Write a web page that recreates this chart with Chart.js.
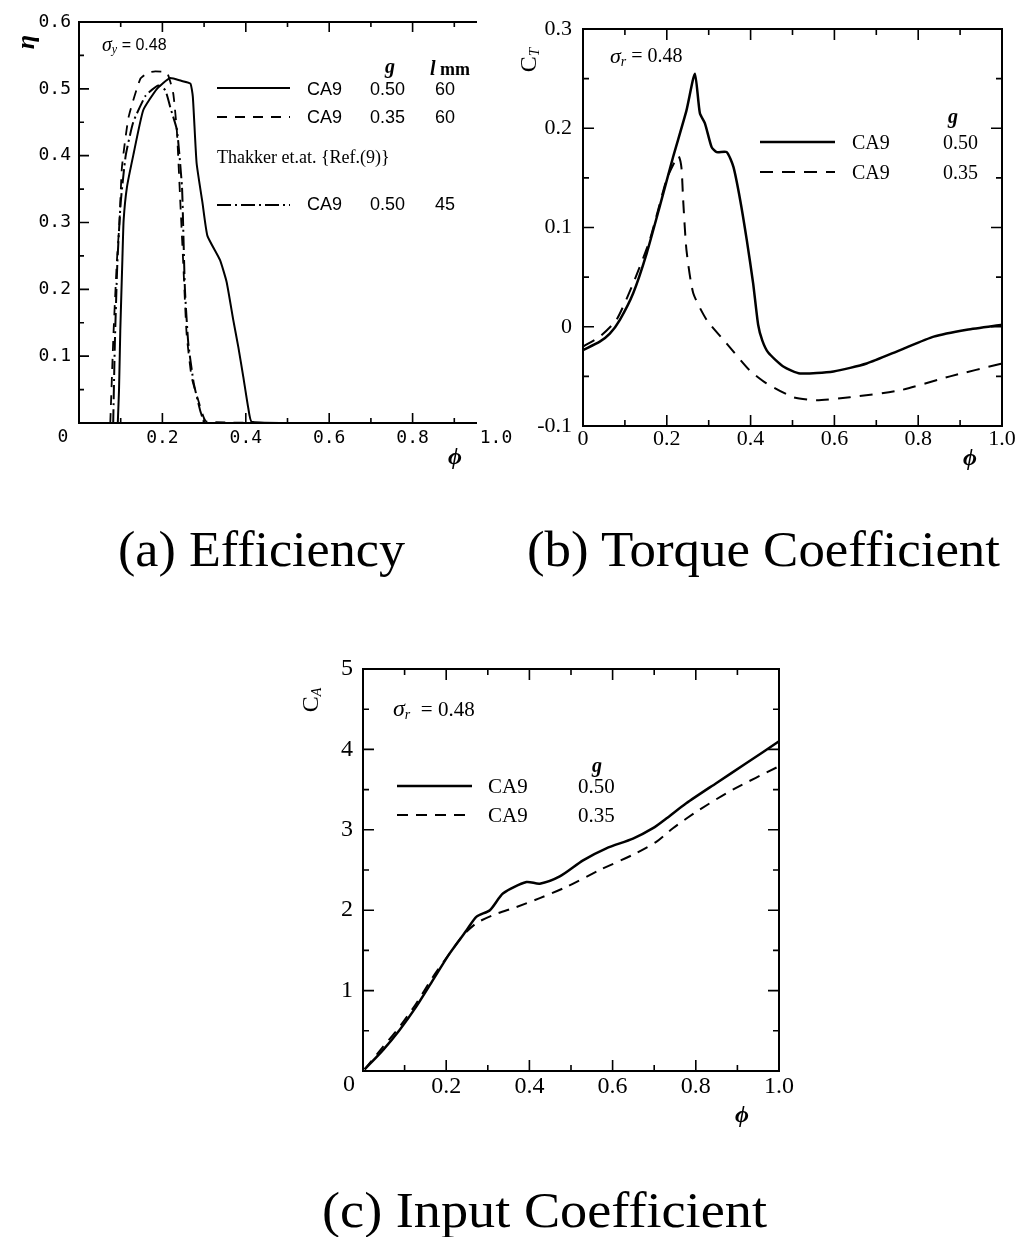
<!DOCTYPE html>
<html><head><meta charset="utf-8">
<script src="https://cdn.jsdelivr.net/npm/chart.js@4"></script>
<style>
html,body{margin:0;padding:0;background:#fff;}
body{width:1017px;height:1237px;position:relative;overflow:hidden;}
.cv{position:absolute;}
.cap{position:absolute;font-family:"Liberation Serif","DejaVu Serif",serif;font-size:50px;line-height:50px;white-space:nowrap;transform-origin:0 0;color:#000;}
</style></head><body>
<div class="cv" style="left:0;top:0;width:540px;height:480px"><canvas id="ca" width="540" height="480"></canvas></div>
<div style="position:absolute;left:477px;top:0;width:23px;height:428px;background:#fff"></div>
<div class="cv" style="left:500px;top:0;width:517px;height:480px"><canvas id="cb" width="517" height="480"></canvas></div>
<div class="cv" style="left:290px;top:640px;width:520px;height:500px"><canvas id="cc" width="520" height="500"></canvas></div>
<div class="cap" id="capA">(a) Efficiency</div>
<div class="cap" id="capB">(b) Torque Coefficient</div>
<div class="cap" id="capC">(c) Input Coefficient</div>
<script>
// ---------------- DATA ----------------
const phiTickLabels = ['0', '0.2', '0.4', '0.6', '0.8', '1.0'];
const etaTickLabels = ['0', '0.1', '0.2', '0.3', '0.4', '0.5', '0.6'];
const ctTickLabels  = ['-0.1', '0', '0.1', '0.2', '0.3'];
const caTickLabels  = ['0', '1', '2', '3', '4', '5'];

// (a) Efficiency
const effPhiG50 = [0.093, 0.096, 0.099, 0.104, 0.107, 0.115, 0.13, 0.154, 0.187, 0.218, 0.245, 0.267, 0.273, 0.282, 0.296, 0.308, 0.338, 0.354, 0.370, 0.382, 0.394, 0.406, 0.414, 0.5];
const effEtaG50 = [0, 0.05, 0.138, 0.244, 0.303, 0.353, 0.40, 0.468, 0.50, 0.516, 0.512, 0.508, 0.488, 0.389, 0.33, 0.28, 0.244, 0.211, 0.154, 0.114, 0.069, 0.022, 0.002, 0];
const effPhiG35 = [0.075, 0.083, 0.091, 0.097, 0.103, 0.119, 0.147, 0.165, 0.183, 0.211, 0.226, 0.235, 0.243, 0.250, 0.258, 0.270, 0.286, 0.306, 0.5];
const effEtaG35 = [0, 0.138, 0.244, 0.30, 0.383, 0.458, 0.515, 0.524, 0.526, 0.524, 0.493, 0.434, 0.33, 0.239, 0.134, 0.069, 0.034, 0.002, 0];
const effPhiRef = [0.082, 0.086, 0.092, 0.10, 0.112, 0.13, 0.16, 0.19, 0.207, 0.22, 0.235, 0.247, 0.25, 0.254, 0.262, 0.275, 0.29, 0.30];
const effEtaRef = [0, 0.12, 0.24, 0.33, 0.40, 0.45, 0.49, 0.505, 0.498, 0.47, 0.438, 0.353, 0.29, 0.20, 0.12, 0.06, 0.02, 0];

// (b) Torque coefficient
const torPhiG50 = [0, 0.04, 0.064, 0.088, 0.12, 0.152, 0.183, 0.215, 0.247, 0.267, 0.279, 0.291, 0.307, 0.319, 0.343, 0.359, 0.375, 0.391, 0.406, 0.418, 0.428, 0.442, 0.478, 0.518, 0.598, 0.677, 0.757, 0.837, 0.916, 1.0];
const torCtG50  = [-0.0235, -0.015, -0.007, 0.007, 0.034, 0.074, 0.121, 0.171, 0.218, 0.255, 0.215, 0.205, 0.181, 0.176, 0.176, 0.161, 0.128, 0.087, 0.044, 0.002, -0.014, -0.026, -0.040, -0.047, -0.045, -0.037, -0.0235, -0.010, -0.003, 0.002];
const torPhiG35 = [0, 0.04, 0.08, 0.12, 0.159, 0.199, 0.215, 0.228, 0.235, 0.239, 0.247, 0.263, 0.295, 0.343, 0.398, 0.438, 0.502, 0.558, 0.637, 0.757, 0.876, 1.0];
const torCtG35  = [-0.020, -0.010, 0.007, 0.044, 0.087, 0.148, 0.163, 0.172, 0.16, 0.128, 0.077, 0.034, 0.007, -0.017, -0.044, -0.057, -0.071, -0.074, -0.071, -0.064, -0.050, -0.037];

// (c) Input coefficient
const inpPhiG50 = [0.004, 0.048, 0.088, 0.128, 0.168, 0.208, 0.249, 0.273, 0.305, 0.337, 0.393, 0.425, 0.473, 0.529, 0.585, 0.649, 0.697, 0.729, 0.777, 0.849, 0.922, 1.0];
const inpCaG50  = [0.02, 0.26, 0.51, 0.80, 1.13, 1.46, 1.75, 1.92, 2.0, 2.21, 2.35, 2.33, 2.42, 2.62, 2.77, 2.89, 3.02, 3.14, 3.33, 3.58, 3.83, 4.10];
const inpPhiG35 = [0.004, 0.048, 0.088, 0.128, 0.168, 0.208, 0.241, 0.273, 0.313, 0.369, 0.425, 0.489, 0.569, 0.649, 0.705, 0.745, 0.809, 0.889, 1.0];
const inpCaG35  = [0.02, 0.30, 0.55, 0.84, 1.17, 1.46, 1.69, 1.84, 1.94, 2.04, 2.15, 2.29, 2.50, 2.69, 2.85, 3.02, 3.25, 3.50, 3.79];

// ---------------- HELPERS ----------------
const SERIF = '"Liberation Serif","DejaVu Serif",serif';
const SANS = '"Liberation Sans","DejaVu Sans",sans-serif';
const MONO = '"DejaVu Sans Mono",monospace';
const pts = (xs, ys) => xs.map((x, i) => ({x: x, y: ys[i]}));
const labelFrom = (labels, min, step, hideZero) => (v) => {
  const i = Math.round((v - min) / step);
  const s = labels[i];
  if (s === undefined) return '';
  if (hideZero && s === '0') return '';
  return s;
};

function drawRich(ctx, x, y, parts, align, rot) {
  ctx.save();
  ctx.translate(x, y);
  if (rot) ctx.rotate(rot);
  let w = 0;
  parts.forEach(p => { ctx.font = p.f; p.w = ctx.measureText(p.t).width; w += p.w; });
  let cx = align === 'center' ? -w / 2 : align === 'right' ? -w : 0;
  ctx.textBaseline = 'middle'; ctx.textAlign = 'left'; ctx.fillStyle = '#000';
  parts.forEach(p => { ctx.font = p.f; ctx.fillText(p.t, cx, p.dy || 0); cx += p.w; });
  ctx.restore();
}

const deco = {
  id: 'deco',
  afterDraw(chart, args, o) {
    const ctx = chart.ctx, a = chart.chartArea, xs = chart.scales.x, ys = chart.scales.y;
    const ox = o.ox, oy = o.oy;
    ctx.save();
    // frame
    ctx.strokeStyle = '#000'; ctx.lineWidth = o.frameW || 2; ctx.lineCap = 'square';
    ctx.beginPath();
    ctx.moveTo(a.right, a.top); ctx.lineTo(a.left, a.top); ctx.lineTo(a.left, a.bottom); ctx.lineTo(a.right, a.bottom);
    if (o.frameRight) ctx.lineTo(a.right, a.top);
    ctx.stroke();
    // inward ticks
    ctx.lineWidth = 1.6; ctx.lineCap = 'butt';
    const t = o.ticks;
    const isMaj = (v, step) => Math.abs(v / step - Math.round(v / step)) < 1e-6;
    ctx.beginPath();
    let n = Math.round((xs.max - xs.min) / t.xMinor);
    for (let i = 0; i <= n; i++) {
      const v = xs.min + i * t.xMinor, px = xs.getPixelForValue(v);
      const L = isMaj(v - xs.min, t.xMajor) ? t.maj : t.min;
      if (t.sides.includes('bottom')) { ctx.moveTo(px, a.bottom); ctx.lineTo(px, a.bottom - L); }
      if (t.sides.includes('top')) { ctx.moveTo(px, a.top); ctx.lineTo(px, a.top + L); }
    }
    n = Math.round((ys.max - ys.min) / t.yMinor);
    for (let i = 0; i <= n; i++) {
      const v = ys.min + i * t.yMinor, py = ys.getPixelForValue(v);
      const L = isMaj(v - ys.min, t.yMajor) ? t.maj : t.min;
      if (t.sides.includes('left')) { ctx.moveTo(a.left, py); ctx.lineTo(a.left + L, py); }
      if (t.sides.includes('right')) { ctx.moveTo(a.right, py); ctx.lineTo(a.right - L, py); }
    }
    ctx.stroke();
    // legend samples
    (o.samples || []).forEach(s => {
      const ds = chart.data.datasets[s.ds];
      ctx.beginPath();
      ctx.strokeStyle = '#000'; ctx.lineWidth = ds.borderWidth; ctx.setLineDash(ds.borderDash || []);
      ctx.moveTo(s.x1 - ox, s.y - oy); ctx.lineTo(s.x2 - ox, s.y - oy);
      ctx.stroke();
      ctx.setLineDash([]);
    });
    // texts
    (o.texts || []).forEach(tx => drawRich(ctx, tx.x - ox, tx.y - oy, tx.parts, tx.align || 'left', tx.rot || 0));
    ctx.restore();
  }
};

function T(t, f, dy) { return {t: t, f: f, dy: dy || 0}; }

function makeChart(id, cfg) {
  return new Chart(document.getElementById(id), {
    type: 'line',
    data: {datasets: cfg.datasets},
    plugins: [deco],
    options: {
      responsive: false, animation: false, events: [],
      layout: {padding: cfg.pad},
      elements: {point: {radius: 0}, line: {fill: false}},
      plugins: {legend: {display: false}, tooltip: {enabled: false}, deco: cfg.deco},
      scales: {
        x: {type: 'linear', min: cfg.x.min, max: cfg.x.max,
            afterFit: s => { s.height = cfg.x.h; },
            grid: {display: false, drawTicks: false}, border: {display: false},
            ticks: {stepSize: cfg.x.step, autoSkip: false, maxRotation: 0, padding: cfg.x.pad, color: '#000',
                    font: cfg.tickFont, callback: cfg.x.cb}},
        y: {type: 'linear', min: cfg.y.min, max: cfg.y.max,
            afterFit: s => { s.width = cfg.y.w; },
            grid: {display: false, drawTicks: false}, border: {display: false},
            ticks: {stepSize: cfg.y.step, autoSkip: false, padding: cfg.y.pad, color: '#000',
                    font: cfg.tickFont, callback: cfg.y.cb}}
      }
    }
  });
}

// ---------------- CHART (a) ----------------
const fA = 'bold italic 20px ' + SERIF;
makeChart('ca', {
  pad: {left: 0, top: 22, right: 44, bottom: 0},
  tickFont: {family: MONO, size: 18},
  x: {min: 0, max: 1, step: 0.2, h: 57, pad: 5, cb: labelFrom(phiTickLabels, 0, 0.2, true)},
  y: {min: 0, max: 0.6, step: 0.1, w: 79, pad: 8, cb: labelFrom(etaTickLabels, 0, 0.1, true)},
  datasets: [
    {data: pts(effPhiG50, effEtaG50), borderColor: '#000', borderWidth: 2, tension: 0.15},
    {data: pts(effPhiG35, effEtaG35), borderColor: '#000', borderWidth: 1.8, borderDash: [10, 8], tension: 0.15},
    {data: pts(effPhiRef, effEtaRef), borderColor: '#000', borderWidth: 2, borderDash: [14, 4, 2, 4], tension: 0.15}
  ],
  deco: {
    ox: 0, oy: 0, frameRight: false, frameW: 2,
    ticks: {xMinor: 0.1, xMajor: 0.2, yMinor: 0.05, yMajor: 0.1, maj: 10, min: 5, sides: ['bottom', 'top', 'left']},
    samples: [{ds: 0, x1: 217, x2: 290, y: 88}, {ds: 1, x1: 217, x2: 290, y: 117}, {ds: 2, x1: 217, x2: 290, y: 205}],
    texts: [
      {x: 102, y: 46, parts: [T('σ', 'italic 20px ' + SERIF), T('y', 'italic 12px ' + SERIF, 4), T(' = 0.48', '16px ' + SANS)]},
      {x: 390, y: 68, align: 'center', parts: [T('g', fA)]},
      {x: 430, y: 70, parts: [T('l', fA), T(' mm', 'bold 18px ' + SERIF)]},
      {x: 307, y: 90, parts: [T('CA9', '18px ' + SANS)]},
      {x: 370, y: 90, parts: [T('0.50', '18px ' + SANS)]},
      {x: 435, y: 90, parts: [T('60', '18px ' + SANS)]},
      {x: 307, y: 118, parts: [T('CA9', '18px ' + SANS)]},
      {x: 370, y: 118, parts: [T('0.35', '18px ' + SANS)]},
      {x: 435, y: 118, parts: [T('60', '18px ' + SANS)]},
      {x: 217, y: 158, parts: [T('Thakker et.at. {Ref.(9)}', '18px ' + SERIF)]},
      {x: 307, y: 205, parts: [T('CA9', '18px ' + SANS)]},
      {x: 370, y: 205, parts: [T('0.50', '18px ' + SANS)]},
      {x: 435, y: 205, parts: [T('45', '18px ' + SANS)]},
      {x: 27, y: 42, align: 'center', rot: -Math.PI / 2, parts: [T('η', 'bold italic 26px ' + SERIF)]},
      {x: 455, y: 458, align: 'center', parts: [T('ϕ', 'bold italic 24px ' + SERIF)]},
      {x: 63, y: 437, align: 'center', parts: [T(etaTickLabels[0], '18px ' + MONO)]}
    ]
  }
});

// ---------------- CHART (b) ----------------
makeChart('cb', {
  pad: {left: 0, top: 29, right: 15, bottom: 0},
  tickFont: {family: SERIF, size: 22},
  x: {min: 0, max: 1, step: 0.2, h: 54, pad: 0, cb: labelFrom(phiTickLabels, 0, 0.2, false)},
  y: {min: -0.1, max: 0.3, step: 0.1, w: 83, pad: 11, cb: labelFrom(ctTickLabels, -0.1, 0.1, false)},
  datasets: [
    {data: pts(torPhiG50, torCtG50), borderColor: '#000', borderWidth: 2.5, tension: 0.2},
    {data: pts(torPhiG35, torCtG35), borderColor: '#000', borderWidth: 2, borderDash: [13, 9], tension: 0.2}
  ],
  deco: {
    ox: 500, oy: 0, frameRight: true, frameW: 2,
    ticks: {xMinor: 0.1, xMajor: 0.2, yMinor: 0.05, yMajor: 0.1, maj: 11, min: 6, sides: ['bottom', 'top', 'left', 'right']},
    samples: [{ds: 0, x1: 760, x2: 835, y: 142}, {ds: 1, x1: 760, x2: 835, y: 172}],
    texts: [
      {x: 610, y: 57, parts: [T('σ', 'italic 22px ' + SERIF), T('r', 'italic 14px ' + SERIF, 5), T(' = 0.48', '20px ' + SERIF)]},
      {x: 953, y: 118, align: 'center', parts: [T('g', fA)]},
      {x: 852, y: 144, parts: [T('CA9', '20px ' + SERIF)]},
      {x: 943, y: 144, parts: [T('0.50', '20px ' + SERIF)]},
      {x: 852, y: 174, parts: [T('CA9', '20px ' + SERIF)]},
      {x: 943, y: 174, parts: [T('0.35', '20px ' + SERIF)]},
      {x: 530, y: 60, align: 'center', rot: -Math.PI / 2, parts: [T('C', '24px ' + SERIF), T('T', 'italic 15px ' + SERIF, 5)]},
      {x: 970, y: 459, align: 'center', parts: [T('ϕ', 'bold italic 24px ' + SERIF)]}
    ]
  }
});

// ---------------- CHART (c) ----------------
makeChart('cc', {
  pad: {left: 0, top: 29, right: 31, bottom: 0},
  tickFont: {family: SERIF, size: 24},
  x: {min: 0, max: 1, step: 0.2, h: 69, pad: 1, cb: labelFrom(phiTickLabels, 0, 0.2, true)},
  y: {min: 0, max: 5, step: 1, w: 73, pad: 10, cb: labelFrom(caTickLabels, 0, 1, true)},
  datasets: [
    {data: pts(inpPhiG50, inpCaG50), borderColor: '#000', borderWidth: 2.5, tension: 0.25},
    {data: pts(inpPhiG35, inpCaG35), borderColor: '#000', borderWidth: 2, borderDash: [11, 8], tension: 0.25}
  ],
  deco: {
    ox: 290, oy: 640, frameRight: true, frameW: 2,
    ticks: {xMinor: 0.1, xMajor: 0.2, yMinor: 0.5, yMajor: 1, maj: 11, min: 6, sides: ['bottom', 'top', 'left', 'right']},
    samples: [{ds: 0, x1: 397, x2: 472, y: 786}, {ds: 1, x1: 397, x2: 472, y: 815}],
    texts: [
      {x: 393, y: 710, parts: [T('σ', 'italic 24px ' + SERIF), T('r', 'italic 14px ' + SERIF, 5), T('  = 0.48', '21px ' + SERIF)]},
      {x: 597, y: 767, align: 'center', parts: [T('g', fA)]},
      {x: 488, y: 787, parts: [T('CA9', '21px ' + SERIF)]},
      {x: 578, y: 787, parts: [T('0.50', '21px ' + SERIF)]},
      {x: 488, y: 816, parts: [T('CA9', '21px ' + SERIF)]},
      {x: 578, y: 816, parts: [T('0.35', '21px ' + SERIF)]},
      {x: 312, y: 700, align: 'center', rot: -Math.PI / 2, parts: [T('C', '24px ' + SERIF), T('A', 'italic 14px ' + SERIF, 5)]},
      {x: 742, y: 1116, align: 'center', parts: [T('ϕ', 'bold italic 24px ' + SERIF)]},
      {x: 349, y: 1085, align: 'center', parts: [T(caTickLabels[0], '24px ' + SERIF)]}
    ]
  }
});

// ---------------- CAPTIONS ----------------
function placeCap(id, left, right, baseline) {
  const el = document.getElementById(id);
  el.style.left = left + 'px';
  el.style.top = (baseline - 42) + 'px';
  const w = el.getBoundingClientRect().width;
  el.style.transform = 'scaleX(' + ((right - left) / w) + ')';
}
placeCap('capA', 118, 405, 566);
placeCap('capB', 527, 1000, 566);
placeCap('capC', 322, 767, 1227);
</script>
</body></html>
